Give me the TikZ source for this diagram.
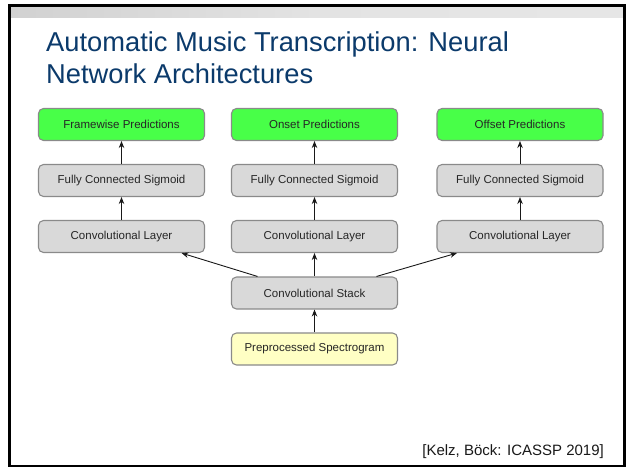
\documentclass[tikz,border=0pt]{standalone}
\usepackage{fontspec}
\setmainfont{Liberation Sans}
\usetikzlibrary{arrows.meta}
\definecolor{titleblue}{HTML}{0B3A6B}
\definecolor{boxgray}{HTML}{D9D9D9}
\definecolor{boxedge}{HTML}{8A8A8A}
\definecolor{predgreen}{HTML}{48FF48}
\definecolor{inputyellow}{HTML}{FFFFC4}
\definecolor{bargray}{HTML}{DCDCDC}
\tikzset{
  layer/.style={draw=boxedge, line width=1.1pt, rounded corners=5pt,
    minimum width=166pt, minimum height=32pt, inner sep=0pt,
    fill=boxgray, text=black!85, font=\fontsize{11.5}{13}\selectfont},
  pred/.style={layer, fill=predgreen},
  inbox/.style={layer, fill=inputyellow},
  flow/.style={draw=black!90, line width=0.9pt,
    -{Stealth[length=7pt,width=5.5pt]}},
  titletext/.style={anchor=base west, inner sep=0pt, text=titleblue,
    font=\fontsize{27.3}{32}\selectfont},
}
\begin{document}
\begin{tikzpicture}[x=1pt, y=-1pt]
  \useasboundingbox (0,0) rectangle (628,468);
  \fill[white] (0,0) rectangle (628,468);
  % slide frame with its grey header strip
  \fill[left color=bargray!95!black, right color=bargray!70, middle color=bargray!80]
    (9.5,5.5) rectangle (624.5,18);
  \draw[black, line width=2.6pt] (9.5,5.5) rectangle (624.5,466);

  % title
  \node[titletext] (t1) at (46,52) {Automatic Music Transcription: Neural};
  \node[titletext] (t2) at (46,84) {Network Architectures};

  % output heads
  \node[pred]  (outF) at (121.5,124.5) {Framewise Predictions};
  \node[pred]  (outN) at (314.5,124.5) {Onset Predictions};
  \node[pred]  (outO) at (520,124.5)   {Offset Predictions};
  \node[layer] (fcF)  at (121.5,180.5) {Fully Connected Sigmoid};
  \node[layer] (fcN)  at (314.5,180.5) {Fully Connected Sigmoid};
  \node[layer] (fcO)  at (520,180.5)   {Fully Connected Sigmoid};
  \node[layer] (cvF)  at (121.5,236.5) {Convolutional Layer};
  \node[layer] (cvN)  at (314.5,236.5) {Convolutional Layer};
  \node[layer] (cvO)  at (520,236.5)   {Convolutional Layer};
  % shared trunk
  \node[layer] (stack) at (314.5,293) {Convolutional Stack};
  \node[inbox] (spec)  at (314.5,349) {Preprocessed Spectrogram};

  % connections
  \draw[flow] (spec) -- (stack);
  \draw[flow] (stack) -- (cvN);
  \draw[flow] ([xshift=-57pt]stack.north) -- ([xshift=60pt]cvF.south);
  \draw[flow] ([xshift=62pt]stack.north) -- ([xshift=-63pt]cvO.south);
  \foreach \c in {F,N,O}{
    \draw[flow] (cv\c) -- (fc\c);
    \draw[flow] (fc\c) -- (out\c);
  }

  % reference
  \node[anchor=base east, inner sep=0pt, text=black!90,
        font=\fontsize{15}{17}\selectfont] (cite) at (604,455)
    {[Kelz, Böck: ICASSP 2019]};
\end{tikzpicture}
\end{document}
